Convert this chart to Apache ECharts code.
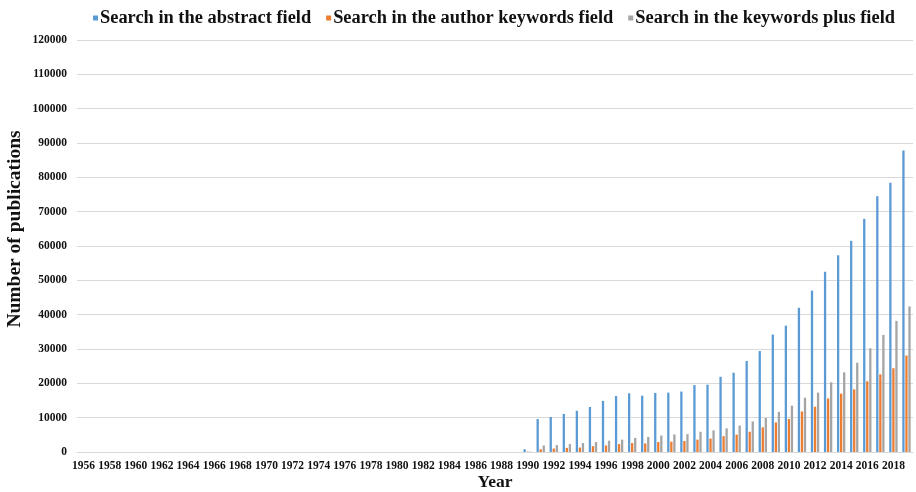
<!DOCTYPE html>
<html>
<head>
<meta charset="utf-8">
<script src="https://cdn.jsdelivr.net/npm/echarts@6/dist/echarts.min.js"></script>
<style>html,body{margin:0;padding:0;background:#fff}#c{width:916px;height:492px}</style>
</head>
<body>
<div id="c"></div>
<script>
var years = [];
for (var y = 1956; y <= 2019; y++) years.push(String(y));

// 1956-1989 values are zero; listed 1990-2019
var zeros34 = [0,0,0,0,0,0,0,0,0,0,0,0,0,0,0,0,0,0,0,0,0,0,0,0,0,0,0,0,0,0,0,0,0,0];
var abstractRecent = [800, 9600, 10200, 11100, 12000, 13100, 14900, 16300, 17100, 16400, 17200, 17300, 17600, 19500, 19600, 21900, 23100, 26500, 29400, 34200, 36800, 42000, 47000, 52500, 57300, 61500, 67900, 74500, 78400, 87800];
var authorRecent = [100, 800, 1000, 1200, 1300, 1700, 1900, 2300, 2600, 2500, 2900, 3000, 3200, 3600, 3900, 4600, 5050, 5900, 7200, 8600, 9600, 11800, 13200, 15600, 17000, 18250, 20600, 22600, 24400, 28100];
var plusRecent = [100, 1900, 2000, 2300, 2600, 2900, 3300, 3600, 4100, 4400, 4800, 5100, 5200, 5900, 6300, 6900, 7700, 8900, 9900, 11700, 13500, 15800, 17300, 20300, 23200, 26000, 30200, 34100, 38200, 42400];

var abstractField = zeros34.concat(abstractRecent);
var authorKeywords = zeros34.concat(authorRecent);
var keywordsPlus = zeros34.concat(plusRecent);

var seriesNames = ['Search in the abstract field', 'Search in the author keywords field', 'Search in the keywords plus field'];
var colors = ['#5B9BD5', '#ED7D31', '#A5A5A5'];
var font = "'Liberation Serif', 'Times New Roman', serif";

var chart = echarts.init(document.getElementById('c'));
chart.setOption({
  animation: false,
  color: colors,
  textStyle: {fontFamily: font},
  legend: {
    top: 4, left: 88,
    itemWidth: 5, itemHeight: 5, itemGap: 15,
    icon: 'rect',
    textStyle: {fontFamily: font, fontWeight: 'bold', fontSize: 18.4, color: '#111', padding: [0,0,0,-3]},
    data: seriesNames
  },
  grid: {left: 77, right: 3, top: 40, bottom: 40, containLabel: false, outerBoundsMode: 'none'},
  xAxis: {
    type: 'category',
    data: years,
    name: 'Year',
    nameLocation: 'middle',
    nameGap: 21,
    nameMoveOverlap: false,
    nameTextStyle: {fontFamily: font, fontWeight: 'bold', fontSize: 17.5, color: '#111'},
    axisLine: {lineStyle: {color: '#d9d9d9'}},
    axisTick: {show: false},
    axisLabel: {interval: 1, fontFamily: font, fontWeight: 'bold', fontSize: 11.5, color: '#111', margin: 8}
  },
  yAxis: {
    type: 'value',
    min: 0, max: 120000, interval: 10000,
    name: 'Number of publications',
    nameLocation: 'middle',
    nameGap: 52,
    nameMoveOverlap: false,
    nameTextStyle: {fontFamily: font, fontWeight: 'bold', fontSize: 19.5, color: '#111', padding: [0, 0, 0, 34]},
    axisLine: {show: false},
    axisTick: {show: false},
    splitLine: {lineStyle: {color: '#d9d9d9'}},
    axisLabel: {fontFamily: font, fontWeight: 'bold', fontSize: 11.5, color: '#111', margin: 10,
      formatter: function (v) { return String(v); }}
  },
  series: [
    {name: seriesNames[0], type: 'bar', data: abstractField, barWidth: 2.3, barGap: '32%'},
    {name: seriesNames[1], type: 'bar', data: authorKeywords, barWidth: 2.3, barGap: '32%'},
    {name: seriesNames[2], type: 'bar', data: keywordsPlus, barWidth: 2.3, barGap: '32%'}
  ]
});
</script>
</body>
</html>
